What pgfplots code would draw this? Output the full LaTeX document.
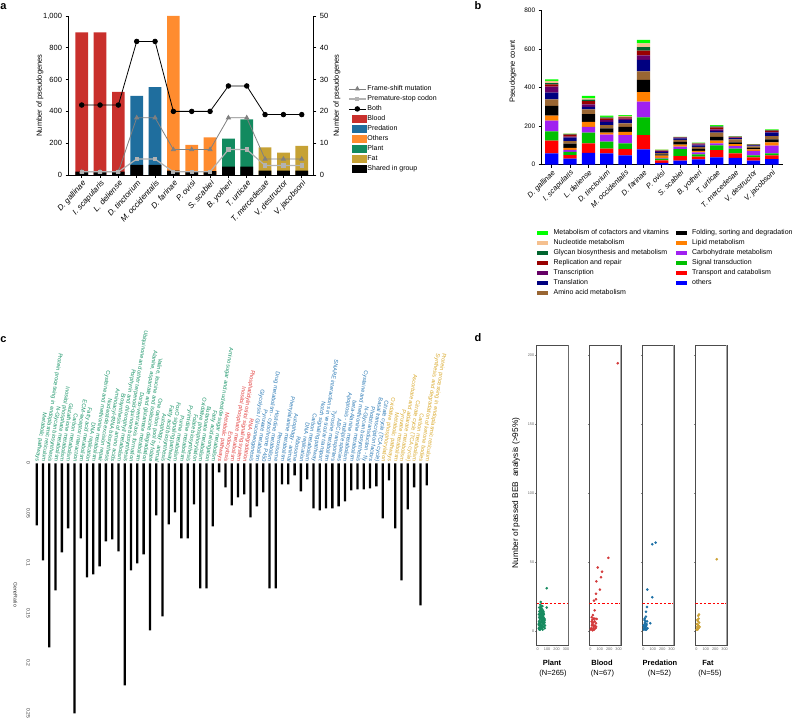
\documentclass[border=0pt]{standalone}
\usepackage{fontspec}
\setmainfont{Liberation Sans}
\usepackage{pgfplots}
\pgfplotsset{compat=1.18}
\usepackage{pgfplotstable}
\newcommand{\fs}[1]{\fontsize{#1}{#1}\selectfont}

\definecolor{bloodc}{HTML}{C9302C}
\definecolor{predc}{HTML}{1F6E9E}
\definecolor{othc}{HTML}{FF8C2F}
\definecolor{plantc}{HTML}{128A5F}
\definecolor{fatc}{HTML}{C6A235}
% panel b
\definecolor{cofc}{HTML}{00FF00}
\definecolor{nucc}{HTML}{F5C08F}
\definecolor{glyc}{HTML}{00652E}
\definecolor{repc}{HTML}{990000}
\definecolor{trac}{HTML}{660066}
\definecolor{tslc}{HTML}{000080}
\definecolor{amic}{HTML}{996633}
\definecolor{folc}{HTML}{000000}
\definecolor{lipc}{HTML}{FF8000}
\definecolor{carc}{HTML}{A020F0}
\definecolor{sigc}{HTML}{00C000}
\definecolor{trnc}{HTML}{FF0000}
\definecolor{othb}{HTML}{0000FF}
% panel c labels
\definecolor{lg}{HTML}{199468}
\definecolor{lr}{HTML}{E2403F}
\definecolor{lb}{HTML}{2A79B5}
\definecolor{lf}{HTML}{D9A92C}
% panel d
\definecolor{dpl}{HTML}{178B60}
\definecolor{dbl}{HTML}{D3393A}
\definecolor{dpr}{HTML}{1B6FA5}
\definecolor{dfa}{HTML}{CCA236}

\newcommand{\G}[1]{\textcolor{lg}{#1}}
\newcommand{\R}[1]{\textcolor{lr}{#1}}
\newcommand{\B}[1]{\textcolor{lb}{#1}}
\newcommand{\F}[1]{\textcolor{lf}{#1}}

\pgfplotstableread{
i oth trn sig car lip fol ami tsl tra rep gly nuc cof
0 59 66 48 56 26 50 34 35 31 12 7 11 8
1 32 18 17 10 10 22 14 17 6 10 3 2 2
2 62 49 55 31 26 40 24 14 12 17 8 6 13
3 59 24 37 36 10 23 17 17 9 9 5 3 6
4 49 32 30 43 17 25 19 17 7 7 3 4 5
5 80 74 92 81 50 63 45 59 24 24 19 19 18
6 10 12 10 3 12 6 7 6 4 3 2 3 2
7 21 24 36 13 10 15 10 8 3 2 1 1 1
8 27 15 12 10 8 10 10 8 5 4 2 2 2
9 38 38 24 11 14 20 21 10 8 10 5 3 4
10 35 24 24 14 10 9 16 6 3 3 2 1 2
11 21 17 10 24 8 8 7 5 2 2 1 1 1
12 29 19 11 40 17 16 17 17 5 6 2 2 3
}\tabB

\pgfplotstableread{
x y
1 0.062
2 0.097
3 0.184
4 0.127
5 0.089
6 0.065
7 0.250
8 0.075
9 0.114
10 0.111
11 0.103
12 0.078
13 0.076
14 0.088
15 0.222
16 0.107
17 0.100
18 0.091
19 0.167
20 0.052
21 0.153
22 0.061
23 0.049
24 0.075
25 0.075
26 0.041
27 0.125
28 0.125
29 0.063
30 0.009
31 0.024
32 0.042
33 0.034
34 0.031
35 0.054
36 0.043
37 0.029
38 0.125
39 0.125
40 0.021
41 0.021
42 0.012
43 0.028
44 0.016
45 0.045
46 0.047
47 0.045
48 0.045
49 0.043
50 0.038
51 0.027
52 0.026
53 0.026
54 0.025
55 0.023
56 0.055
57 0.017
58 0.065
59 0.117
60 0.046
61 0.024
62 0.142
63 0.022
}\tabC

\pgfplotstableread{
x y
-10.6 20
324 20
}\tabThr

\pgfplotsset{
  dstyle/.style={scale only axis, width=31.6pt, height=300pt,
    xmin=-10.6, xmax=324, ymin=-10.14, ymax=207.2,
    xtick={0,100,200,300}, ytick={0,50,100,150,200},
    xtick pos=bottom, ytick pos=left,
    tick align=outside, major tick length=1.5pt,
    tick style={black!50, line width=0.4pt},
    xticklabel style={font=\fs{3.8}, text=black!60, inner sep=0.8pt},
    yticklabel style={font=\fs{3.8}, text=black!60, inner sep=0.8pt},
    axis line style={black!70, line width=0.7pt},
    /pgf/number format/assume math mode=true},
  dots/.style={only marks, mark=*, mark size=1.1pt, color=#1},
}

\begin{document}
\begin{tikzpicture}
\path[use as bounding box] (0pt,0pt) rectangle (794pt,722pt);

\node[font=\fs{11}\bfseries] at (3.5pt,715.5pt) {a};
\node[font=\fs{11}\bfseries] at (478pt,716pt) {b};
\node[font=\fs{11}\bfseries] at (3.5pt,382.5pt) {c};
\node[font=\fs{11}\bfseries] at (478pt,384.5pt) {d};

% ---------------- Panel a, left axis ----------------
\begin{axis}[
  at={(68.5pt,547pt)}, anchor=south west, scale only axis,
  width=244.8pt, height=159pt,
  xmin=-0.72, xmax=12.63, ymin=0, ymax=1000,
  axis x line*=bottom, axis y line*=left,
  axis line style={-, line width=0.8pt},
  tick align=outside, major tick length=3pt, tick style={line width=0.7pt, black},
  xtick={0,...,12},
  xticklabels={D. gallinae, I. scapularis, L. deliense, D. tinctorium, M. occidentalis, D. farinae, P. ovisi, S. scabiei, B. yotheri, T. urticae, T. mercedesae, V. destructor, V. jacobsoni},
  xticklabel style={rotate=48, anchor=north east, font=\fs{8}\itshape, inner sep=1pt},
  ytick={0,200,400,600,800,1000},
  yticklabel style={font=\fs{7.5}},
  /pgf/number format/assume math mode=true,
  /pgf/number format/1000 sep={,},
  every axis y label/.style={at={(axis description cs:-0.1164,0.5)}, rotate=90, anchor=center, font=\fs{7.5}},
  ylabel={Number of pseudogenes},
]
\addplot[ybar, bar width=12.7pt, bar shift=0pt, fill=bloodc, draw=none] coordinates {(0,897)(1,897)(2,522)};
\addplot[ybar, bar width=12.7pt, bar shift=0pt, fill=predc, draw=none] coordinates {(3,498)(4,553)};
\addplot[ybar, bar width=12.7pt, bar shift=0pt, fill=othc, draw=none] coordinates {(5,1000)(6,190)(7,237)};
\addplot[ybar, bar width=12.7pt, bar shift=0pt, fill=plantc, draw=none] coordinates {(8,228)(9,350)};
\addplot[ybar, bar width=12.7pt, bar shift=0pt, fill=fatc, draw=none] coordinates {(10,174)(11,140)(12,183)};
\addplot[ybar, bar width=12.7pt, bar shift=0pt, fill=black, draw=none] coordinates {(0,21)(1,21)(2,21)(3,63)(4,63)(5,27)(6,25)(7,25)(8,52)(9,52)(10,27)(11,27)(12,27)};
\end{axis}

% ---------------- Panel a, right axis ----------------
\begin{axis}[
  at={(68.5pt,547pt)}, anchor=south west, scale only axis,
  width=244.8pt, height=159pt,
  xmin=-0.72, xmax=12.63, ymin=0, ymax=50,
  axis y line*=right, axis x line=none,
  axis line style={-, line width=0.8pt},
  tick align=outside, major tick length=3pt, tick style={line width=0.7pt, black},
  xtick=\empty,
  ytick={0,10,20,30,40,50},
  yticklabel style={font=\fs{7.5}},
  /pgf/number format/assume math mode=true,
  every axis y label/.style={at={(axis description cs:1.097,0.5)}, rotate=90, anchor=center, font=\fs{7.5}},
  ylabel={Number of pseudogenes},
  legend style={at={(axis description cs:1.1417,0.574)}, anchor=north west, draw=none, fill=none,
    font=\fs{7}, inner sep=0pt, row sep=0pt, nodes={inner sep=1pt, minimum height=10pt}},
  legend cell align=left,
]
\addplot[color=black!50, line width=0.8pt, mark=triangle*, mark size=2.3pt] coordinates {(0,1)(1,1)(2,1)(3,18)(4,18)(5,8)(6,8)(7,8)(8,18)(9,18)(10,5)(11,5)(12,5)};
\addplot[color=black!30, line width=1.2pt, mark=square*, mark size=1.5pt] coordinates {(0,1)(1,1)(2,1)(3,5)(4,5)(5,1)(6,1)(7,1)(8,8)(9,8)(10,3)(11,3)(12,3)};
\addplot[color=black, line width=0.8pt, mark=*, mark size=2.3pt] coordinates {(0,22)(1,22)(2,22)(3,42)(4,42)(5,20)(6,20)(7,20)(8,28)(9,28)(10,19)(11,19)(12,19)};
\addlegendimage{legend image code/.code={\fill[bloodc] (3pt,-3pt) rectangle (17pt,3.5pt);}}
\addlegendimage{legend image code/.code={\fill[predc] (3pt,-3pt) rectangle (17pt,3.5pt);}}
\addlegendimage{legend image code/.code={\fill[othc] (3pt,-3pt) rectangle (17pt,3.5pt);}}
\addlegendimage{legend image code/.code={\fill[plantc] (3pt,-3pt) rectangle (17pt,3.5pt);}}
\addlegendimage{legend image code/.code={\fill[fatc] (3pt,-3pt) rectangle (17pt,3.5pt);}}
\addlegendimage{legend image code/.code={\fill[black] (3pt,-3pt) rectangle (17pt,3.5pt);}}
\legend{Frame-shift mutation, Premature-stop codon, Both, Blood, Predation, Others, Plant, Fat, Shared in group}
\end{axis}

% ---------------- Panel b ----------------
\begin{axis}[
  at={(541.7pt,557.3pt)}, anchor=south west, scale only axis,
  width=241pt, height=154pt,
  xmin=-0.545, xmax=12.59, ymin=0, ymax=800,
  ybar stacked, bar width=13.3pt,
  axis x line*=bottom, axis y line*=left,
  axis line style={-, line width=0.8pt},
  tick align=outside, major tick length=3pt, tick style={line width=0.7pt, black},
  xtick={0,...,12},
  xticklabels={D. gallinae, I. scapularis, L. deliense, D. tinctorium, M. occidentalis, D. farinae, P. ovisi, S. scabiei, B. yotheri, T. urticae, T. mercedesae, V. destructor, V. jacobsoni},
  xticklabel style={rotate=45, anchor=north east, font=\fs{7.5}\itshape, inner sep=1pt},
  ytick={0,200,400,600,800},
  yticklabel style={font=\fs{6.5}},
  /pgf/number format/assume math mode=true,
  every axis y label/.style={at={(axis description cs:-0.119,0.604)}, rotate=90, anchor=center, font=\fs{7.5}},
  ylabel={Pseudogene count},
  legend style={at={(axis description cs:-0.0195,-0.4065)}, anchor=north west, draw=none, fill=none,
    font=\fs{7}, inner sep=0pt, row sep=0pt, nodes={inner sep=1pt, minimum height=10pt},
    /tikz/every even column/.append style={column sep=6pt}},
  legend columns=2, legend cell align=left,
]
\addlegendimage{legend image code/.code={\fill[cofc] (0pt,-1.6pt) rectangle (10pt,1.6pt); \path (15pt,0pt);}}
\addlegendimage{legend image code/.code={\fill[folc] (0pt,-1.6pt) rectangle (10pt,1.6pt); \path (15pt,0pt);}}
\addlegendimage{legend image code/.code={\fill[nucc] (0pt,-1.6pt) rectangle (10pt,1.6pt); \path (15pt,0pt);}}
\addlegendimage{legend image code/.code={\fill[lipc] (0pt,-1.6pt) rectangle (10pt,1.6pt); \path (15pt,0pt);}}
\addlegendimage{legend image code/.code={\fill[glyc] (0pt,-1.6pt) rectangle (10pt,1.6pt); \path (15pt,0pt);}}
\addlegendimage{legend image code/.code={\fill[carc] (0pt,-1.6pt) rectangle (10pt,1.6pt); \path (15pt,0pt);}}
\addlegendimage{legend image code/.code={\fill[repc] (0pt,-1.6pt) rectangle (10pt,1.6pt); \path (15pt,0pt);}}
\addlegendimage{legend image code/.code={\fill[sigc] (0pt,-1.6pt) rectangle (10pt,1.6pt); \path (15pt,0pt);}}
\addlegendimage{legend image code/.code={\fill[trac] (0pt,-1.6pt) rectangle (10pt,1.6pt); \path (15pt,0pt);}}
\addlegendimage{legend image code/.code={\fill[trnc] (0pt,-1.6pt) rectangle (10pt,1.6pt); \path (15pt,0pt);}}
\addlegendimage{legend image code/.code={\fill[tslc] (0pt,-1.6pt) rectangle (10pt,1.6pt); \path (15pt,0pt);}}
\addlegendimage{legend image code/.code={\fill[othb] (0pt,-1.6pt) rectangle (10pt,1.6pt); \path (15pt,0pt);}}
\addlegendimage{legend image code/.code={\fill[amic] (0pt,-1.6pt) rectangle (10pt,1.6pt); \path (15pt,0pt);}}
\addplot[fill=othb, draw=none] table[x=i, y=oth] {\tabB};
\addplot[fill=trnc, draw=none] table[x=i, y=trn] {\tabB};
\addplot[fill=sigc, draw=none] table[x=i, y=sig] {\tabB};
\addplot[fill=carc, draw=none] table[x=i, y=car] {\tabB};
\addplot[fill=lipc, draw=none] table[x=i, y=lip] {\tabB};
\addplot[fill=folc, draw=none] table[x=i, y=fol] {\tabB};
\addplot[fill=amic, draw=none] table[x=i, y=ami] {\tabB};
\addplot[fill=tslc, draw=none] table[x=i, y=tsl] {\tabB};
\addplot[fill=trac, draw=none] table[x=i, y=tra] {\tabB};
\addplot[fill=repc, draw=none] table[x=i, y=rep] {\tabB};
\addplot[fill=glyc, draw=none] table[x=i, y=gly] {\tabB};
\addplot[fill=nucc, draw=none] table[x=i, y=nuc] {\tabB};
\addplot[fill=cofc, draw=none] table[x=i, y=cof] {\tabB};
\legend{Metabolism of cofactors and vitamins, {Folding, sorting and degradation}, Nucleotide metabolism, Lipid metabolism, Glycan biosynthesis and metabolism, Carbohydrate metabolism, Replication and repair, Signal transduction, Transcription, Transport and catabolism, Translation, others, Amino acid metabolism}
\end{axis}

% ---------------- Panel c ----------------
\begin{axis}[
  at={(33.55pt,258.7pt)}, anchor=north west, scale only axis,
  width=396.3pt, height=258.7pt,
  xmin=0.5, xmax=63.5, ymin=0, ymax=0.2587,
  y dir=reverse,
  axis line style={draw=none}, major tick length=0pt,
  xticklabel pos=right,
  xtick={1,...,63},
  xticklabels={\G{Metabolic pathways}, \G{Protein processing in endoplasmic reticulum}, \G{N-Glycan biosynthesis}, \G{Inositol phosphate metabolism}, \G{Glutathione metabolism}, \G{Carbon metabolism}, \G{ECM-receptor interaction}, \G{Fatty acid metabolism}, \G{DNA replication}, \G{Cysteine and methionine metabolism}, \G{Nucleotide excision repair}, \G{Aminoacyl-tRNA biosynthesis}, \G{Biosynthesis of amino acids}, \G{Porphyrin and chlorophyll metabolism}, \G{Ubiquinone and other terpenoid-quinone biosynthesis}, \G{Dorso-ventral axis formation}, {\G{Alanine, aspartate and glutamate metabolism}}, {\G{Valine, leucine and isoleucine degradation}}, \G{One carbon pool by folate}, \G{Autophagy - animal}, \G{Fatty acid biosynthesis}, \G{FoxO signaling pathway}, \G{Purine metabolism}, \G{Pyrimidine metabolism}, \G{Folate biosynthesis}, \G{Oxidative phosphorylation}, \G{Butanoate metabolism}, \G{Fatty acid elongation}, \G{Amino sugar and nucleotide sugar metabolism},
  \R{Metabolic pathways}, \R{Endocytosis}, \R{Inositol phosphate metabolism}, \R{Phosphatidylinositol signaling system}, \R{RNA degradation},
  \B{Glycolysis / Gluconeogenesis}, \B{Pyruvate metabolism}, \B{Drug metabolism - cytochrome P450}, \B{Histidine metabolism}, \B{Peroxisome}, \B{Phenylalanine metabolism}, \B{Autophagy - animal}, \B{Ribosome}, \B{DNA replication}, \B{Carbon metabolism}, \B{Notch signaling pathway}, \B{SNARE interactions in vesicular transport}, \B{Tyrosine metabolism}, \B{ABC transporters}, \B{Apoptosis - multiple species}, \B{beta-Alanine metabolism}, \B{Cysteine and methionine metabolism}, \B{N-Glycan biosynthesis}, \B{Phototransduction - fly}, \B{Basal transcription factors}, \B{Citrate cycle (TCA cycle)},
  \F{Oxidative phosphorylation}, \F{Metabolic pathways}, \F{Pyruvate metabolism}, \F{Ascorbate and aldarate metabolism}, \F{Citrate cycle (TCA cycle)}, \F{Carbon metabolism}, \F{Synthesis and degradation of ketone bodies}, \F{Protein processing in endoplasmic reticulum}},
  xticklabel style={rotate=-99, anchor=east, font=\fs{5.6}, inner sep=1.5pt},
  ytick={0,0.05,0.1,0.15,0.2,0.25},
  yticklabels={0,0.05,0.1,0.15,0.2,0.25},
  yticklabel style={rotate=-90, anchor=north, font=\fs{5}, text=black!80},
]
\addplot[ybar, bar width=2.3pt, bar shift=0pt, fill=black, draw=none] table[x=x, y=y] {\tabC};
\end{axis}
\node[rotate=-90, font=\fs{5.2}, text=black!80] at (15.5pt,127.5pt) {GeneRatio};

% ---------------- Panel d ----------------
\begin{axis}[dstyle, at={(536.7pt,77pt)}, anchor=south west]
\addplot[draw=red, line width=1pt, dash pattern=on 2.5pt off 1.8pt, mark=none] table[x=x, y=y] {\tabThr};
\addplot[dots=dpl] coordinates {(12,2)(15,4)(18,1)(20,6)(22,3)(25,8)(28,5)(30,10)(32,2)(35,12)(38,7)(40,14)(42,4)(45,9)(48,11)(50,6)(52,13)(55,3)(58,8)(60,10)(62,5)(65,12)(68,7)(70,9)(24,15)(30,17)(36,16)(27,19)(33,21)(40,18)(45,16)(55,15)(60,14)(50,18)(20,12)(16,10)(14,7)(18,14)(26,11)(34,6)(44,2)(46,13)(52,1)(38,3)(29,13)(42,10)(57,11)(64,9)(72,6)(66,3)(23,9)(31,4)(37,9)(43,7)(49,4)(54,10)(59,6)(62,13)(35,15)(41,12)(47,8)(20,2)(26,1)(10,5)(13,12)(17,17)(75,8)(78,4)(74,2)(95,31)(95,17)};
\draw[black!35, line width=1.6pt] (rel axis cs:1,0) -- (rel axis cs:1,1);
\end{axis}
\begin{axis}[dstyle, at={(589.3pt,77pt)}, anchor=south west, yticklabels={}]
\addplot[draw=red, line width=1pt, dash pattern=on 2.5pt off 1.8pt, mark=none] table[x=x, y=y] {\tabThr};
\addplot[dots=dbl] coordinates {(7,1)(25,0.5)(39,3)(60,5.6)(14,6.8)(67,8.7)(28,11.5)(10,2)(18,4)(30,6)(35,9)(45,7)(50,4)(22,8)(15,10)(40,1)(55,2)(30,2)(20,5)(62,3)(48,9)(33,4)(46,15)(39,22)(60,23)(60,27)(102,30)(64,36)(113,39)(124,43)(78,46)(191,53)(290,194)};
\draw[black!35, line width=1.6pt] (rel axis cs:1,0) -- (rel axis cs:1,1);
\end{axis}
\begin{axis}[dstyle, at={(642.3pt,77pt)}, anchor=south west, yticklabels={}]
\addplot[draw=red, line width=1pt, dash pattern=on 2.5pt off 1.8pt, mark=none] table[x=x, y=y] {\tabThr};
\addplot[dots=dpr] coordinates {(5,1)(10,3)(15,5)(20,2)(25,7)(30,4)(12,8)(18,6)(8,2)(22,1)(28,3)(35,5)(40,7)(15,9)(3,4)(32,1)(45,2)(74,5.6)(28,10.4)(28,14)(39,17.4)(95,24.4)(42,30)(95,62.8)(131,64)};
\draw[black!35, line width=1.6pt] (rel axis cs:1,0) -- (rel axis cs:1,1);
\end{axis}
\begin{axis}[dstyle, at={(695.3pt,77pt)}, anchor=south west, yticklabels={}]
\addplot[draw=red, line width=1pt, dash pattern=on 2.5pt off 1.8pt, mark=none] table[x=x, y=y] {\tabThr};
\addplot[dots=dfa] coordinates {(3,1)(8,3)(12,5)(15,2)(18,7)(22,4)(25,9)(30,6)(10,8)(20,11)(28,12)(5,5)(35,3)(14,1)(24,2)(216,52)};
\draw[black!35, line width=1.6pt] (rel axis cs:1,0) -- (rel axis cs:1,1);
\end{axis}

\node[rotate=90, font=\fs{8.3}] at (516pt,229pt) {Number of passed BEB\ \ analysis (>95\%)};
\node[font=\fs{7.5}\bfseries] at (552pt,59.3pt) {Plant};
\node[font=\fs{7.5}] at (553pt,48.7pt) {(N=265)};
\node[font=\fs{7.5}\bfseries] at (602pt,59.3pt) {Blood};
\node[font=\fs{7.5}] at (602.5pt,48.7pt) {(N=67)};
\node[font=\fs{7.5}\bfseries] at (660pt,59.3pt) {Predation};
\node[font=\fs{7.5}] at (659.5pt,48.7pt) {(N=52)};
\node[font=\fs{7.5}\bfseries] at (708pt,59.3pt) {Fat};
\node[font=\fs{7.5}] at (710pt,48.7pt) {(N=55)};
\end{tikzpicture}
\end{document}
